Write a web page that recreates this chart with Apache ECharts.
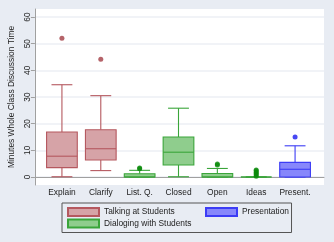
<!DOCTYPE html>
<html><head><meta charset="utf-8">
<script src="https://cdn.jsdelivr.net/npm/echarts@6/dist/echarts.min.js"></script>
<style>html,body{margin:0;padding:0;background:#e8ecf3;}#c{width:334px;height:242px;}</style>
</head><body><div id="c"></div>
<script>
const categories = ['Explain', 'Clarify', 'List. Q.', 'Closed', 'Open', 'Ideas', 'Present.'];
const yTicks = [0, 10, 20, 30, 40, 50, 60];
// [categoryIndex, lowerWhisker, Q1, median, Q3, upperWhisker]
const talkingBoxes = [[0, 0.1, 3.5, 7.8, 16.9, 34.6], [1, 2.4, 6.4, 10.6, 17.7, 30.5]];
const dialogBoxes = [[2, 0, 0, 0, 1.2, 2.5], [3, 0.1, 4.5, 9.3, 15.0, 25.8], [4, 0, 0, 0, 1.3, 3.2], [5, 0, 0, 0, 0, 0]];
const presentBoxes = [[6, 0, 0, 2.9, 5.5, 11.7]];
const talkingOutliers = [[0, 52.0], [1, 44.2]];
const dialogOutliers = [[2, 3.1], [2, 3.4], [4, 4.5], [4, 4.9], [5, 0.3], [5, 0.8], [5, 1.3], [5, 1.8], [5, 2.3], [5, 2.6]];
const presentOutliers = [[6, 15.0]];

const FS = 8.4;
const FONT = 'Liberation Sans, Arial, sans-serif';
const styles = {
  talk: {fill: '#d6a3a7', stroke: '#b5585f', dot: '#a23c43'},
  dial: {fill: '#8fcd8d', stroke: '#3aa53a', dot: '#0a8a0a'},
  pres: {fill: '#8787fb', stroke: '#3c3cf5', dot: '#1a1af0'}
};

function makeRender(st) {
  return function (params, api) {
    const idx = api.value(0);
    const lo = api.coord([idx, api.value(1)]);
    const q1 = api.coord([idx, api.value(2)]);
    const md = api.coord([idx, api.value(3)]);
    const q3 = api.coord([idx, api.value(4)]);
    const hi = api.coord([idx, api.value(5)]);
    const band = api.size([1, 0])[0];
    const bw = band * 0.79, cw = bw * 0.68;
    const x = lo[0];
    const ls = {stroke: st.stroke, lineWidth: 1.1};
    return {
      type: 'group',
      children: [
        {type: 'line', shape: {x1: x, y1: hi[1], x2: x, y2: q3[1]}, style: ls},
        {type: 'line', shape: {x1: x, y1: q1[1], x2: x, y2: lo[1]}, style: ls},
        {type: 'line', shape: {x1: x - cw / 2, y1: hi[1], x2: x + cw / 2, y2: hi[1]}, style: ls},
        {type: 'line', shape: {x1: x - cw / 2, y1: lo[1], x2: x + cw / 2, y2: lo[1]}, style: ls},
        {type: 'rect', shape: {x: x - bw / 2, y: q3[1], width: bw, height: q1[1] - q3[1]},
          style: {fill: st.fill, stroke: st.stroke, lineWidth: 1.1}},
        {type: 'line', shape: {x1: x - bw / 2, y1: md[1], x2: x + bw / 2, y2: md[1]}, style: ls}
      ]
    };
  };
}

function boxSeries(name, data, st) {
  return {
    name: name, type: 'custom', xAxisIndex: 1, yAxisIndex: 1,
    renderItem: makeRender(st), data: data,
    encode: {x: 0, y: [1, 2, 3, 4, 5]},
    itemStyle: {color: st.fill, borderColor: st.stroke, borderWidth: 1},
    z: 3
  };
}
function dotSeries(name, data, st) {
  return {
    name: name, type: 'scatter', xAxisIndex: 1, yAxisIndex: 1, data: data,
    symbolSize: 5, itemStyle: {color: st.dot}, z: 4
  };
}

const chart = echarts.init(document.getElementById('c'));
chart.setOption({
  backgroundColor: '#e8ecf3',
  animation: false,
  textStyle: {fontFamily: FONT},
  grid: [
    {left: 32, right: 10, top: 9, bottom: 57, show: true, backgroundColor: '#ffffff', borderWidth: 0},
    {left: 42.5, right: 19.5, top: 9, bottom: 57}
  ],
  xAxis: [
    {gridIndex: 0, type: 'value', min: 0, max: 1, axisLine: {show: true, lineStyle: {color: '#a0a0a0', width: 1}},
      axisTick: {show: false}, axisLabel: {show: false}, splitLine: {show: false}},
    {gridIndex: 1, type: 'category', data: categories, axisLine: {show: false}, axisTick: {show: false},
      axisLabel: {fontSize: FS, color: '#222', margin: 4, interval: 0}, splitLine: {show: false}}
  ],
  yAxis: [
    {gridIndex: 0, type: 'value', min: -3, max: 63,
      name: 'Minutes Whole Class Discussion Time', nameLocation: 'middle', nameGap: 16,
      nameTextStyle: {fontSize: FS, color: '#222'},
      axisLine: {show: true, lineStyle: {color: '#a0a0a0', width: 1}},
      axisTick: {show: true, length: 4, customValues: yTicks, lineStyle: {color: '#a0a0a0'}},
      axisLabel: {customValues: yTicks, rotate: 90, fontSize: FS, color: '#222', margin: 3},
      splitLine: {show: true, customValues: yTicks, lineStyle: {color: '#eceff5', width: 1.5}}},
    {gridIndex: 1, type: 'value', min: -3, max: 63, show: false, splitLine: {show: false}}
  ],
  legend: [
    {orient: 'vertical', left: 62, top: 203, padding: [4, 100, 4, 5], itemWidth: 31, itemHeight: 8, itemGap: 1.5,
      borderColor: '#555', borderWidth: 1, icon: 'rect',
      textStyle: {fontSize: FS, color: '#222'},
      data: ['Talking at Students', 'Dialoging with Students']},
    {orient: 'vertical', left: 205, top: 207, padding: 0, itemWidth: 31, itemHeight: 8, icon: 'rect',
      textStyle: {fontSize: FS, color: '#222'},
      data: ['Presentation']}
  ],
  series: [
    boxSeries('Talking at Students', talkingBoxes, styles.talk),
    boxSeries('Dialoging with Students', dialogBoxes, styles.dial),
    boxSeries('Presentation', presentBoxes, styles.pres),
    dotSeries('talkOut', talkingOutliers, styles.talk),
    dotSeries('dialOut', dialogOutliers, styles.dial),
    dotSeries('presOut', presentOutliers, styles.pres)
  ]
});
</script></body></html>
